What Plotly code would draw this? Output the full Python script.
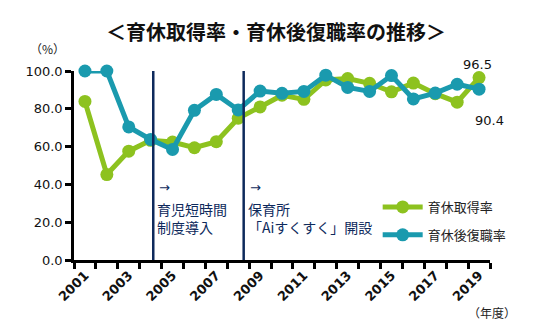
import plotly.graph_objects as go

years = list(range(2001, 2020))
take_rate = [83.9, 45.2, 57.6, 63.3, 62.4, 59.4, 62.6, 75.0, 81.0, 87.2, 85.0, 95.3, 96.0, 93.5, 89.0, 93.6, 88.0, 83.5, 96.5]
return_rate = [100.0, 100.0, 70.4, 63.8, 58.5, 79.2, 87.6, 79.4, 89.4, 88.2, 89.2, 97.8, 91.3, 89.2, 97.6, 85.2, 88.3, 93.0, 90.4]
ytick_vals = [0, 20, 40, 60, 80, 100]
ytick_text = ["0.0", "20.0", "40.0", "60.0", "80.0", "100.0"]
xtick_vals = list(range(2001, 2020, 2))
event_x = [2004.12, 2008.25]

GREEN = "#8DC21F"
TEAL = "#1A9AAE"
NAVY = "#0E2A5C"
JP = "Noto Sans CJK JP"
NUM = "DejaVu Sans"

fig = go.Figure()
fig.add_trace(go.Scatter(x=years, y=take_rate, name="育休取得率", mode="lines+markers",
                         line=dict(color=GREEN, width=5), marker=dict(color=GREEN, size=13),
                         cliponaxis=False, legendgroup="a"))
fig.add_trace(go.Scatter(x=years, y=return_rate, name="育休後復職率", mode="lines+markers",
                         line=dict(color=TEAL, width=5), marker=dict(color=TEAL, size=13),
                         cliponaxis=False, legendgroup="b"))

for ex in event_x:
    fig.add_shape(type="line", x0=ex, x1=ex, y0=0, y1=104, xref="x", yref="y",
                  line=dict(color=NAVY, width=2.5), layer="above")

for ex, label in zip(event_x, ["育児短時間<br>制度導入", "保育所<br>「Aiすくすく」開設"]):
    fig.add_annotation(x=ex, y=38.5, xref="x", yref="y", text="→", showarrow=False,
                       xanchor="left", yanchor="middle", xshift=4, font=dict(family=NUM, size=13, color=NAVY))
    fig.add_annotation(x=ex, y=22, xref="x", yref="y", text=label, showarrow=False,
                       xanchor="left", yanchor="middle", align="left", xshift=2,
                       font=dict(family=JP, size=14, color=NAVY))

fig.add_annotation(x=years[-1], y=take_rate[-1], xref="x", yref="y", text=f"{take_rate[-1]:.1f}",
                   showarrow=False, yshift=13, xshift=-2, font=dict(family=NUM, size=13, color="#111"))
fig.add_annotation(x=years[-1], y=return_rate[-1], xref="x", yref="y", text=f"{return_rate[-1]:.1f}",
                   showarrow=False, yshift=-31, xshift=10, font=dict(family=NUM, size=13, color="#111"))

fig.add_annotation(x=0.5, y=1.0, xref="paper", yref="paper", yanchor="bottom", yshift=23, xshift=-6,
                   text="<b>＜育休取得率・育休後復職率の推移＞</b>", showarrow=False,
                   font=dict(family=JP, size=20, color="#111"))
fig.add_annotation(x=-0.11, y=1.0, xref="paper", yref="paper", yanchor="bottom", yshift=12,
                   text="（%）", showarrow=False, font=dict(family=JP, size=12, color="#222"))
fig.add_annotation(x=1.0, y=0, xref="paper", yref="paper", yanchor="top", yshift=-42, xanchor="right", xshift=28,
                   text="（年度）", showarrow=False, font=dict(family=JP, size=12, color="#222"))

fig.update_layout(
    width=540, height=326,
    margin=dict(l=74, r=50, t=71, b=66),
    paper_bgcolor="white", plot_bgcolor="white",
    showlegend=True,
    legend=dict(x=0.73, y=0.36, xanchor="left", yanchor="top", bgcolor="rgba(0,0,0,0)",
                font=dict(family=JP, size=13, color="#222"), tracegroupgap=8, itemwidth=40),
    xaxis=dict(range=[2000.5, 2019.5], tickmode="array", tickvals=xtick_vals,
               ticktext=[f"<b>{v}</b>" for v in xtick_vals], tickangle=-45,
               ticks="", showline=True, linecolor="black", linewidth=2.5, showgrid=False, zeroline=False,
               tickfont=dict(family=NUM, size=13, color="#111"),
               minor=dict(tickmode="linear", tick0=2000.5, dtick=1, ticks="outside", ticklen=6,
                          tickwidth=2.5, tickcolor="black", showgrid=False)),
    yaxis=dict(range=[0, 100], tickmode="array", tickvals=ytick_vals, ticktext=ytick_text,
               ticks="outside", ticklen=6, tickwidth=2.5, tickcolor="black",
               showline=True, linecolor="black", linewidth=2.5, showgrid=False, zeroline=False,
               tickfont=dict(family=NUM, size=13, color="#111")),
)

fig.write_html("out.html")
